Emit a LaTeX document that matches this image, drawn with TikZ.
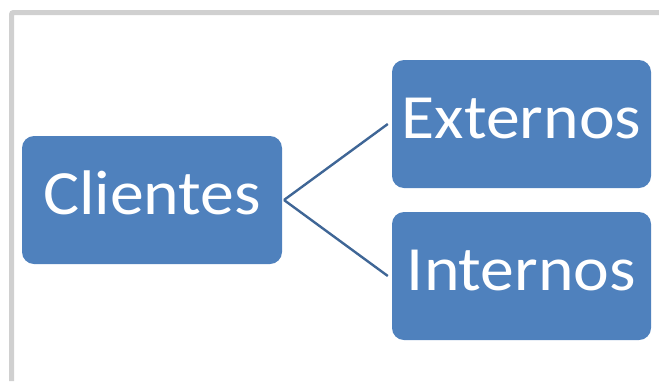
\documentclass[tikz,border=0pt]{standalone}
\usepackage{fontspec}
\setmainfont{Carlito}
\definecolor{boxblue}{HTML}{4F81BD}
\definecolor{linkblue}{HTML}{3F6696}
\definecolor{framegray}{HTML}{D0D0D0}
\newcommand{\wideword}[1]{\scalebox{1.075}[1]{#1}}
\begin{document}
\begin{tikzpicture}[x=1pt,y=-1pt,
  blk/.style={draw=none, fill=boxblue, rounded corners=12pt, text=white,
    minimum width=260pt, minimum height=128pt, inner sep=0pt,
    text height=40pt, text depth=12pt,
    font=\fontsize{63}{70}\selectfont},
  link/.style={draw=linkblue, line width=2.4pt}]
\useasboundingbox (0,0) rectangle (659,381);
\draw[framegray, line width=5pt, rounded corners=2pt] (11.5,381) -- (11.5,12.5) -- (659,12.5);
\node[blk] (c) at (152,200) {\wideword{Clientes}};
\node[blk, minimum width=259pt] (e) at (521.5,124) {\wideword{Externos}};
\node[blk, minimum width=259pt] (i) at (521.5,276) {\wideword{Internos}};
\coordinate (j) at (284,200);
\draw[link] (j) -- ([xshift=-4pt]e.west);
\draw[link] (j) -- ([xshift=-4pt]i.west);
\end{tikzpicture}
\end{document}
